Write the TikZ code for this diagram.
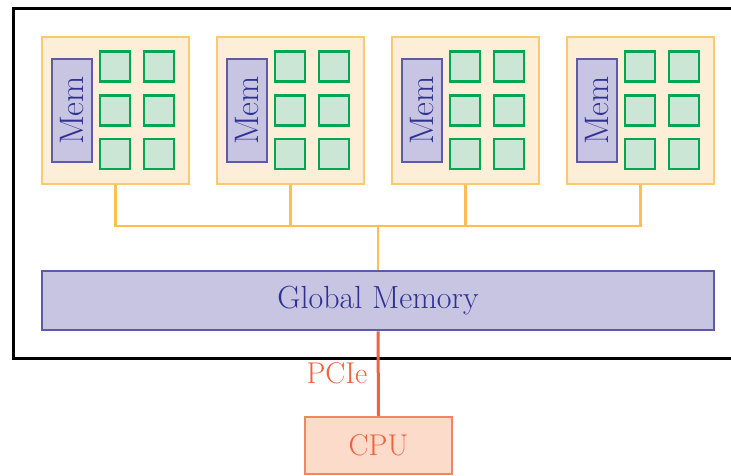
\documentclass[tikz,border=0pt]{standalone}
\usepackage{fontspec}
\usepackage{tikz}
\usepackage{xcolor}
\usetikzlibrary{positioning}

\definecolor{clfill}{HTML}{FDEED8}
\definecolor{cldraw}{HTML}{FDC96F}
\definecolor{busline}{HTML}{FDBF4F}
\definecolor{memfill}{HTML}{C8C5E3}
\definecolor{memdraw}{HTML}{5D5AA8}
\definecolor{memtext}{HTML}{2E3192}
\definecolor{corefill}{HTML}{CCE6D6}
\definecolor{coredraw}{HTML}{00A651}
\definecolor{pcie}{HTML}{F0623E}
\definecolor{cpufill}{HTML}{FCDBCA}
\definecolor{cpudraw}{HTML}{F58560}

\tikzset{
    cluster/.style={draw=cldraw, fill=clfill, line width=2.5pt, minimum width=147pt, minimum height=147pt, inner sep=0pt},
    membox/.style={draw=memdraw, fill=memfill, line width=2.5pt, text=memtext, inner sep=0pt},
    core/.style={draw=coredraw, fill=corefill, line width=2.5pt, minimum size=30pt, inner sep=0pt},
    bus/.style={draw=busline, line width=2.5pt},
    cpubox/.style={draw=cpudraw, fill=cpufill, line width=2.5pt, text=pcie, inner sep=0pt},
    big/.style={font=\fontsize{30}{32}\selectfont}
}

\begin{document}
\begin{tikzpicture}[x=1pt, y=-1pt]
    \useasboundingbox (0,0) rectangle (731,475);
    \clip (0,0) rectangle (731,475);

    % GPU frame
    \draw[line width=3pt] (13,8) rectangle (745,358);

    % Global memory
    \node[membox, font=\fontsize{32}{34}\selectfont, minimum width=672pt, minimum height=59pt] (gm) at (378,300.5) {Global Memory};
    \coordinate (bus) at (378,226);

    % Clusters
    \foreach \i in {0,1,2,3} {
        \node[cluster] (c\i) at (115.5+175*\i,110.5) {};
        \node[membox, font=\fontsize{34}{36}\selectfont, rotate=90, minimum width=103pt, minimum height=40pt] (m\i) at (72+175*\i,110.5) {Mem};
        \node[core] (k\i a) at (115+175*\i,66.5) {};
        \node[core] (k\i b) at (159+175*\i,66.5) {};
        \node[core] (k\i c) at (115+175*\i,110.5) {};
        \node[core] (k\i d) at (159+175*\i,110.5) {};
        \node[core] (k\i e) at (115+175*\i,154) {};
        \node[core] (k\i f) at (159+175*\i,154) {};
        \draw[bus] (c\i.south) |- (bus);
    }
    \draw[bus] (bus) -- (gm.north);

    % Host
    \node[cpubox, big, minimum width=147pt, minimum height=57pt] (cpu) at (378.5,445.5) {CPU};
    \draw[pcie, line width=3pt] (gm.south) -- (cpu.north)
        node[midway, left=6pt, big, text=pcie] (pcielbl) {PCIe};
\end{tikzpicture}
\end{document}
